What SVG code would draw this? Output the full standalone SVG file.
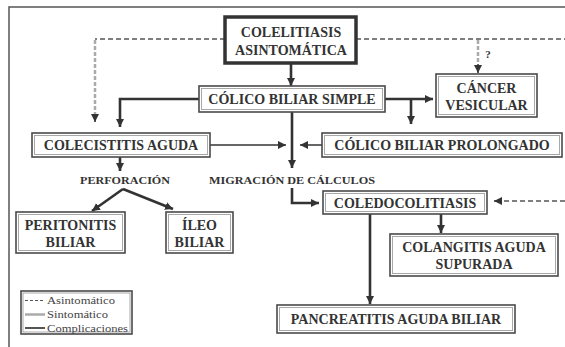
<svg xmlns="http://www.w3.org/2000/svg" width="565" height="347" viewBox="0 0 565 347">
<style>
.bo{fill:#fff;stroke:#4a4a4a;stroke-width:1.6}
.bi{fill:none;stroke:#a8a8a8;stroke-width:1}
.t{font-family:"Liberation Serif","Times New Roman",serif;font-weight:bold;font-size:14px;fill:#333;text-anchor:middle}
.s{font-family:"Liberation Serif","Times New Roman",serif;font-weight:bold;font-size:10px;fill:#333;text-anchor:middle}
.lg{font-family:"Liberation Serif","Times New Roman",serif;font-size:11px;fill:#444}
.k{fill:none;stroke:#333;stroke-width:2.6}
.n{fill:none;stroke:#333;stroke-width:1.5}
.d{fill:none;stroke:#555;stroke-width:1.3;stroke-dasharray:5 3}
.g{fill:none;stroke:#aaa;stroke-width:2.5;stroke-dasharray:4 2}
</style>
<defs>
<marker id="ah" markerUnits="userSpaceOnUse" markerWidth="9" markerHeight="9" refX="8" refY="4.5" orient="auto">
<path d="M0,0.5 L8,4.5 L0,8.5 z" fill="#333"/>
</marker>
</defs>
<path d="M9,347 V7 H565" fill="none" stroke="#555" stroke-width="1.5"/>
<g id="connectors">
<path class="k" d="M291,63 V86" marker-end="url(#ah)"/>
<path class="k" d="M199,99 H120 V127" marker-end="url(#ah)"/>
<path class="k" d="M385,99 H433" marker-end="url(#ah)"/>
<path class="k" d="M411,99 V124" marker-end="url(#ah)"/>
<path class="k" d="M292,112 V168" marker-end="url(#ah)"/>
<path class="n" d="M210,145 H286" marker-end="url(#ah)"/>
<path class="n" d="M322,145 H300" marker-end="url(#ah)"/>
<path class="k" d="M120,157 V171" marker-end="url(#ah)"/>
<path class="k" d="M123,189 L92,211" marker-end="url(#ah)"/>
<path class="k" d="M123,189 L173,209" marker-end="url(#ah)"/>
<path class="k" d="M292,188 V203 H319" marker-end="url(#ah)"/>
<path class="k" d="M441,214 V233" marker-end="url(#ah)"/>
<path class="k" d="M370,214 V304" marker-end="url(#ah)"/>
<path class="d" d="M225,39 H95"/>
<path class="g" d="M95,40 V114"/>
<path class="n" d="M95,114 V122" marker-end="url(#ah)"/>
<path class="d" d="M356,39 H565"/>
<path class="g" d="M478,40 V64"/>
<path class="n" d="M478,64 V73" marker-end="url(#ah)"/>
<path class="d" d="M565,201 H500"/>
<path class="n" d="M500,201 H494" marker-end="url(#ah)"/>
</g>
<text class="s" x="488" y="58" style="font-size:11px">?</text>
<text class="s" x="125" y="184" textLength="90" lengthAdjust="spacingAndGlyphs">PERFORACIÓN</text>
<text class="s" x="292" y="184" textLength="166" lengthAdjust="spacingAndGlyphs">MIGRACIÓN DE CÁLCULOS</text>
<g id="n-asintomatica">
<rect x="225" y="17" width="131" height="46" fill="#fff" stroke="#333" stroke-width="3.5"/>
<text class="t" x="291" y="37">COLELITIASIS</text>
<text class="t" x="291" y="55">ASINTOMÁTICA</text>
</g>
<g id="n-simple">
<rect class="bo" x="199" y="86" width="186" height="26"/>
<rect class="bi" x="201.5" y="88.5" width="181" height="21"/>
<text class="t" x="292" y="104">CÓLICO BILIAR SIMPLE</text>
</g>
<g id="n-cancer">
<rect class="bo" x="436" y="74" width="101" height="43"/>
<rect class="bi" x="438.5" y="76.5" width="96" height="38"/>
<text class="t" x="486.5" y="93">CÁNCER</text>
<text class="t" x="486.5" y="110">VESICULAR</text>
</g>
<g id="n-colecistitis">
<rect class="bo" x="32" y="133" width="178" height="24"/>
<rect class="bi" x="34.5" y="135.5" width="173" height="19"/>
<text class="t" x="121" y="150">COLECISTITIS AGUDA</text>
</g>
<g id="n-prolongado">
<rect class="bo" x="322" y="133" width="240" height="24"/>
<rect class="bi" x="324.5" y="135.5" width="235" height="19"/>
<text class="t" x="442" y="150">CÓLICO BILIAR PROLONGADO</text>
</g>
<g id="n-peritonitis">
<rect class="bo" x="16" y="212" width="109" height="41"/>
<rect class="bi" x="18.5" y="214.5" width="104" height="36"/>
<text class="t" x="70.5" y="230">PERITONITIS</text>
<text class="t" x="70.5" y="247">BILIAR</text>
</g>
<g id="n-ileo">
<rect class="bo" x="166" y="212" width="67" height="41"/>
<rect class="bi" x="168.5" y="214.5" width="62" height="36"/>
<text class="t" x="199.5" y="230">ÍLEO</text>
<text class="t" x="199.5" y="247">BILIAR</text>
</g>
<g id="n-coledoco">
<rect class="bo" x="323" y="191" width="164" height="23"/>
<rect class="bi" x="325.5" y="193.5" width="159" height="18"/>
<text class="t" x="405" y="207.5">COLEDOCOLITIASIS</text>
</g>
<g id="n-colangitis">
<rect class="bo" x="390" y="234" width="168" height="42"/>
<rect class="bi" x="392.5" y="236.5" width="163" height="37"/>
<text class="t" x="474" y="252">COLANGITIS AGUDA</text>
<text class="t" x="474" y="269">SUPURADA</text>
</g>
<g id="n-pancreatitis">
<rect class="bo" x="277" y="305" width="238" height="28"/>
<rect class="bi" x="279.5" y="307.5" width="233" height="23"/>
<text class="t" x="396" y="324">PANCREATITIS AGUDA BILIAR</text>
</g>
<g id="legend">
<rect class="bo" x="21" y="291" width="111" height="43"/>
<rect class="bi" x="23" y="293" width="107" height="39"/>
<path d="M25,300.5 H45" stroke="#555" stroke-width="1" stroke-dasharray="3 2" fill="none"/>
<path d="M25,314.5 H45" stroke="#aaa" stroke-width="2.5" fill="none"/>
<path d="M25,328 H45" stroke="#555" stroke-width="2" fill="none"/>
<text class="lg" x="47" y="304" textLength="68" lengthAdjust="spacingAndGlyphs">Asintomático</text>
<text class="lg" x="47" y="318" textLength="61" lengthAdjust="spacingAndGlyphs">Sintomático</text>
<text class="lg" x="47" y="331.5" textLength="81" lengthAdjust="spacingAndGlyphs">Complicaciones</text>
</g>
</svg>
